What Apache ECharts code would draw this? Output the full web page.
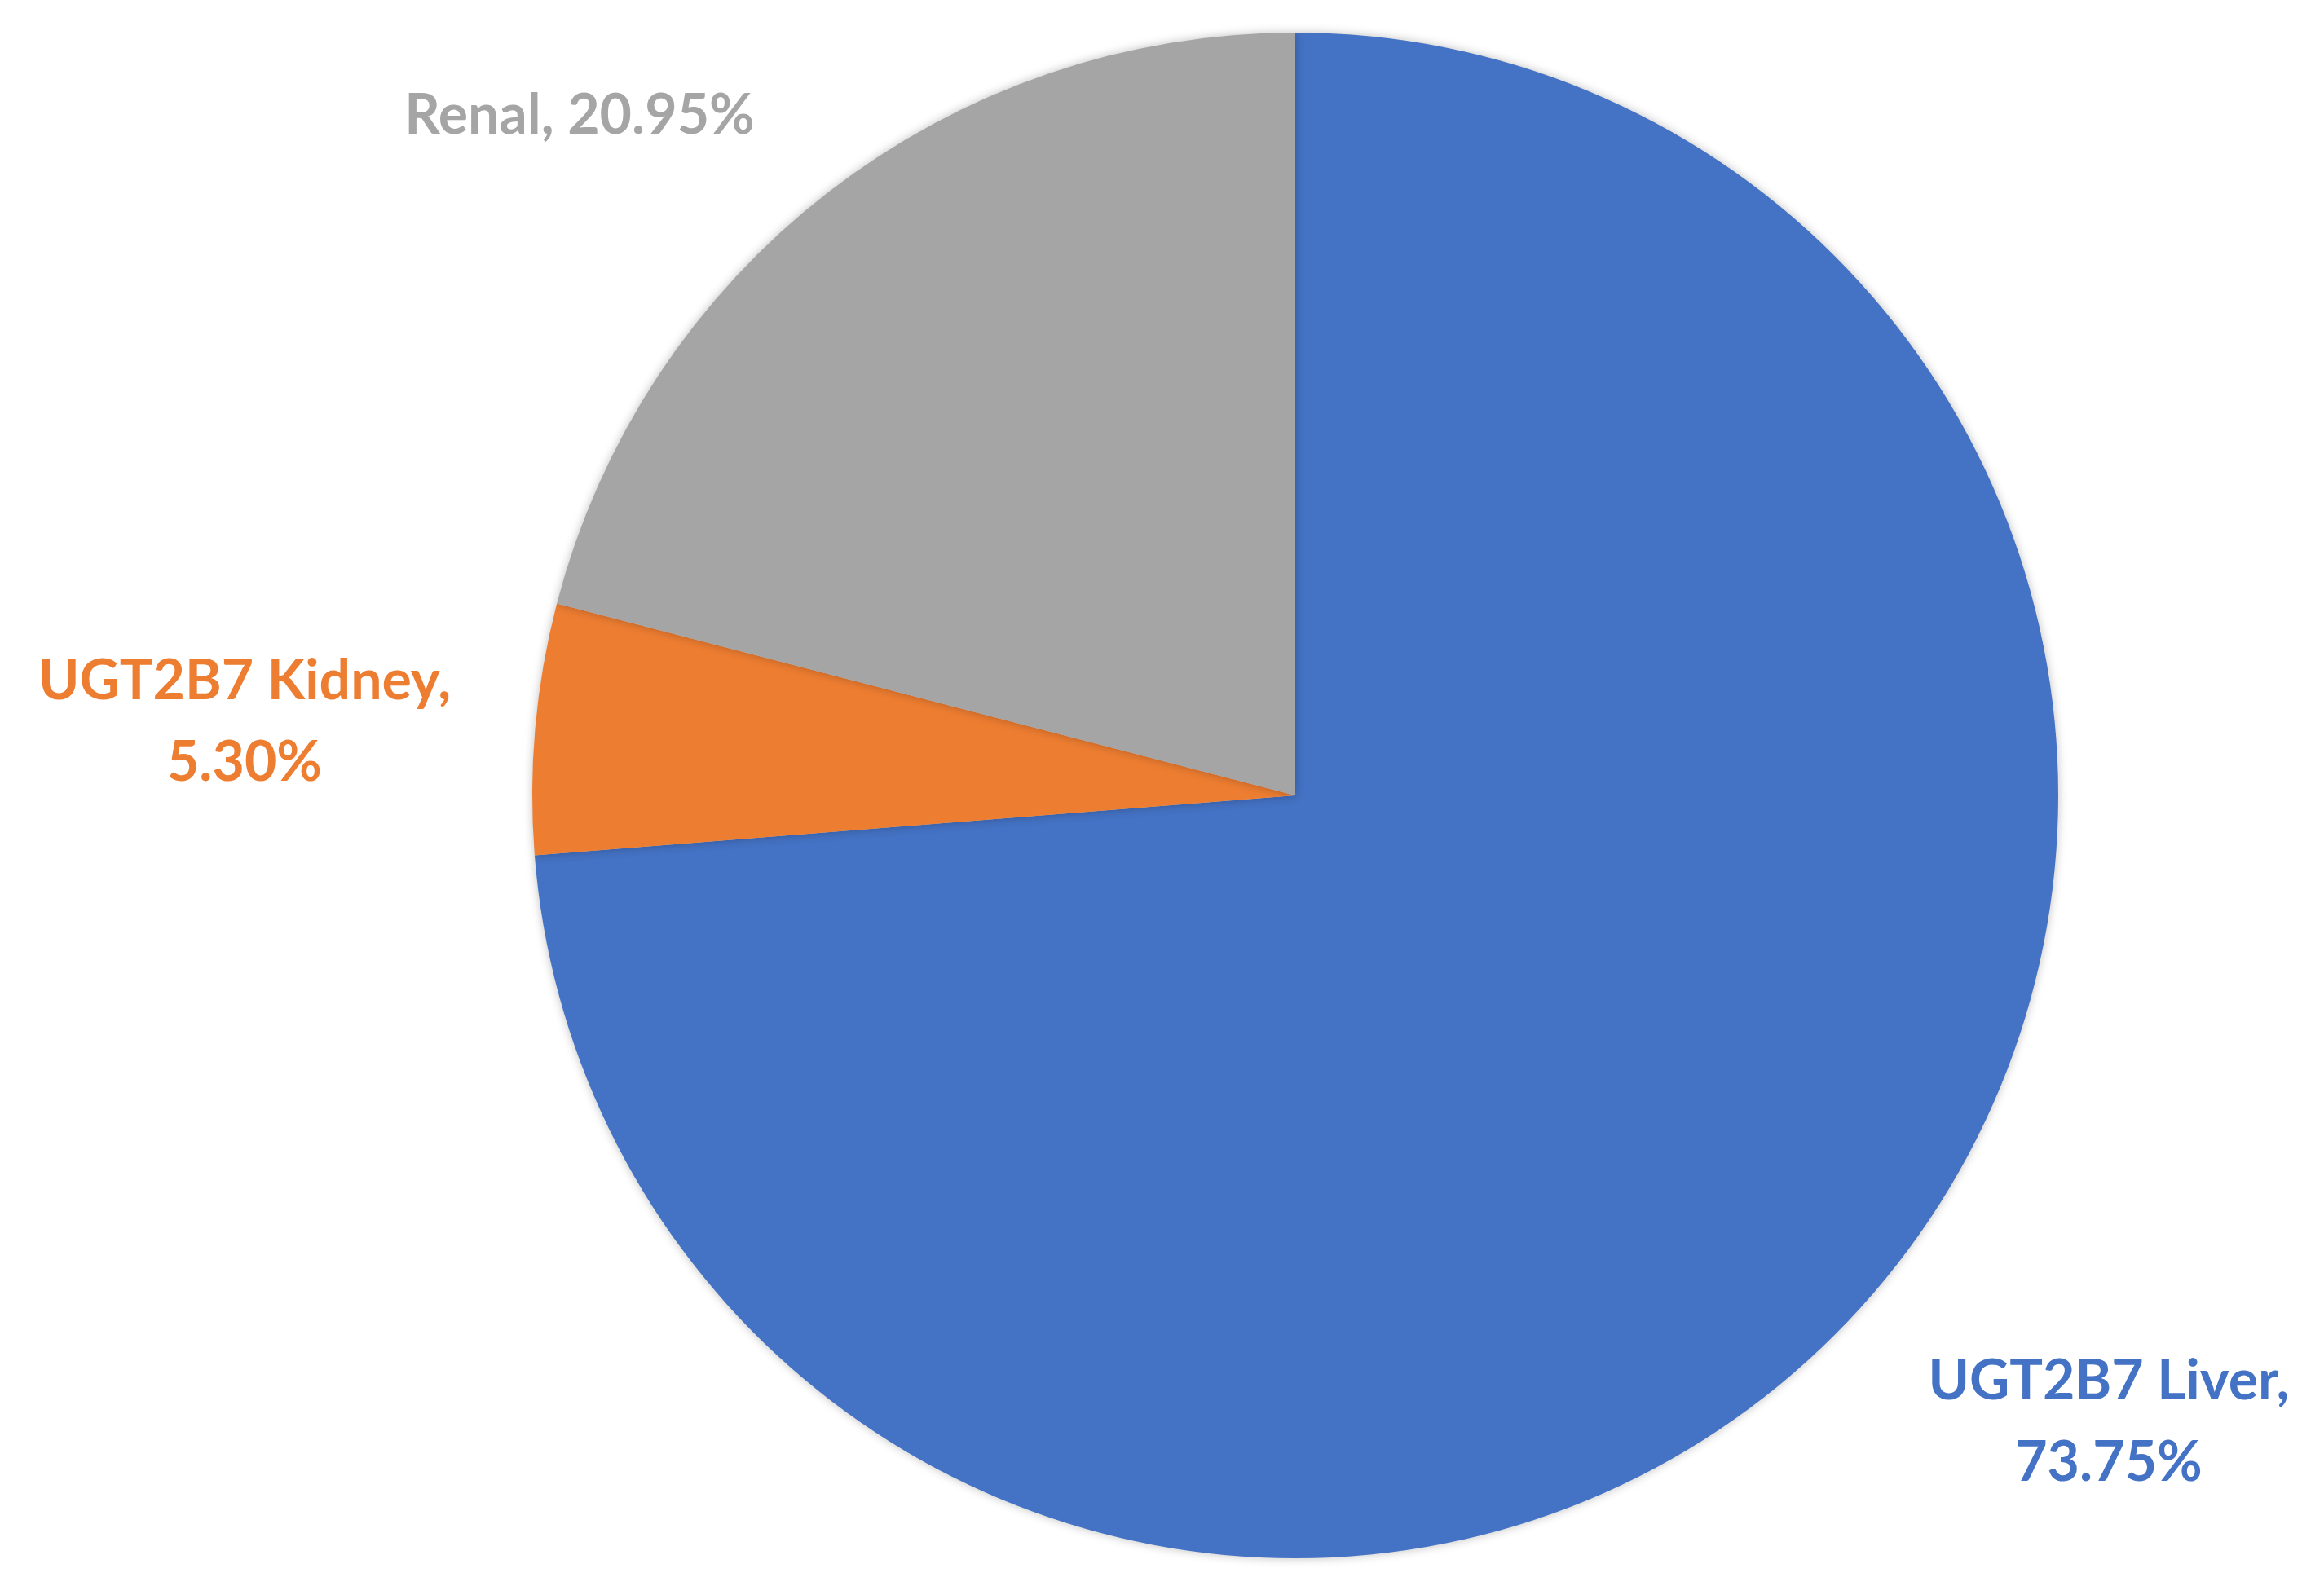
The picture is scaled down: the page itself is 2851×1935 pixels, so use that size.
<!DOCTYPE html>
<html>
<head>
<meta charset="utf-8">
<script src="https://cdn.jsdelivr.net/npm/echarts@6/dist/echarts.min.js"></script>
<style>
html, body { margin: 0; padding: 0; background: #fff; }
#chart { width: 2851px; height: 1935px; }
</style>
</head>
<body>
<div id="chart"></div>
<script>
var categories = ['UGT2B7 Liver', 'UGT2B7 Kidney', 'Renal'];
var values = [73.75, 5.30, 20.95];
var colors = ['#4472C4', '#ED7D31', '#A5A5A5'];

// label anchor points (pixels), one per slice
var labelPos = [[2587, 1745], [300, 886], [711, 142]];

var chartDom = document.getElementById('chart');
var myChart = echarts.init(chartDom);

var seriesdata = [];
for (var i = 0; i < categories.length; i++) {
	seriesdata.push({
		name: categories[i],
		value: values[i],
		itemStyle: { color: colors[i] },
		label: { color: colors[i] }
	});
}

var option = {
	animation: false,
	series: [
		{
			type: 'pie',
			center: [1589, 976],
			radius: 936,
			startAngle: 90,
			clockwise: true,
			data: seriesdata,
			itemStyle: {
				shadowBlur: 12,
				shadowColor: 'rgba(0,0,0,0.25)'
			},
			label: {
				show: true,
				position: 'outside',
				fontFamily: 'Lato',
				fontWeight: 'bold',
				fontSize: 68,
				lineHeight: 100,
				align: 'center',
				formatter: function (p) {
					var txt = p.name + ', ' + p.value.toFixed(2) + '%';
					if (p.dataIndex < 2) txt = p.name + ',\n' + p.value.toFixed(2) + '%';
					return txt;
				}
			},
			labelLine: { show: false },
			labelLayout: function (params) {
				var pos = labelPos[params.dataIndex];
				return { x: pos[0], y: pos[1], align: 'center', verticalAlign: 'middle' };
			}
		}
	]
};
myChart.setOption(option);
</script>
</body>
</html>
